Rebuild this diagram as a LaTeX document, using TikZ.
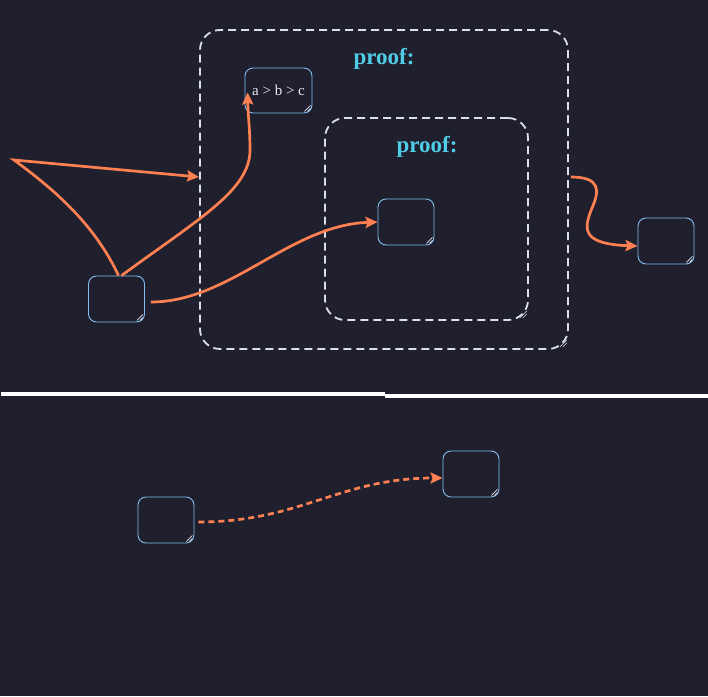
\documentclass[tikz,border=0pt]{standalone}
\usepackage{fontspec}
\setmainfont{Liberation Serif}
\usetikzlibrary{arrows.meta,calc}
\definecolor{bg}{RGB}{31,31,46}
\definecolor{nodeblue}{RGB}{130,190,240}
\definecolor{boxgray}{RGB}{220,222,232}
\definecolor{titlecyan}{RGB}{80,205,230}
\definecolor{coral}{RGB}{255,128,80}
\definecolor{txt}{RGB}{235,235,242}
\tikzset{
  statebox/.style={draw=nodeblue, line width=0.9pt, rounded corners=8pt,
    minimum width=56pt, minimum height=46pt, inner sep=2pt, text=txt,
    font=\fontsize{15}{17}\selectfont},
  groupbox/.style={draw=boxgray, line width=1.8pt, rounded corners=20pt,
    dash pattern=on 8pt off 5pt},
  grouptitle/.style={text=titlecyan, font=\bfseries\fontsize{23}{25}\selectfont},
  conn/.style={draw=coral, line width=2.7pt, -{Stealth[length=12pt,width=11pt,inset=2pt]}},
  grip/.style={draw=boxgray!80, line width=0.6pt},
  divider/.style={draw=white, line width=4pt}
}
\newcommand{\gripat}[1]{%
  \draw[grip] ($(#1)+(-8,-2)$) -- ++(6,-6);
  \draw[grip] ($(#1)+(-5,-2)$) -- ++(3,-3);}
\begin{document}
\begin{tikzpicture}[x=1pt,y=-1pt]
\useasboundingbox (0,0) rectangle (708,696);
\fill[bg] (0,0) rectangle (708,696);
% group boxes
\node[groupbox, minimum width=368pt, minimum height=319pt] (outer) at (384,189.5) {};
\node[grouptitle] (outert) at (384,58.5) {proof:};
\node[groupbox, minimum width=203pt, minimum height=202pt] (inner) at (426.5,219) {};
\node[grouptitle] (innert) at (427,146.5) {proof:};
% state nodes
\node[statebox, minimum width=67pt, minimum height=45pt] (abc) at (278.5,90.5) {a > b > c};
\node[statebox] (A) at (116.5,299) {};
\node[statebox] (B) at (406,222) {};
\node[statebox] (C) at (666,241) {};
\node[statebox] (D) at (166,520) {};
\node[statebox] (E) at (471,474) {};
% grips
\foreach \n in {abc,A,B,C,D,E}{\gripat{\n.south east}}
\draw[grip] ($(inner.south east)+(-9,-3)$) -- ++(7,-7);
\draw[grip] ($(inner.south east)+(-6,-3)$) -- ++(4,-4);
\draw[grip] ($(outer.south east)+(-9,-3)$) -- ++(7,-7);
\draw[grip] ($(outer.south east)+(-6,-3)$) -- ++(4,-4);
% helper coordinates
\coordinate (p1) at (14,160);
\coordinate (inW) at ($(outer.west)+(0,-12.5)$);
\coordinate (outE) at ($(outer.east)+(2,-12.5)$);
% connectors
\draw[conn] ($(A.north)+(2,0)$) .. controls (95,225) and (55,190) .. (p1) -- (inW);
\draw[conn] ($(A.north)+(5,0)$) .. controls (200,218) and (250,190) .. (250,150)
   .. controls (250,130) and (248,115) .. ($(abc.west)+(3,2)$);
\draw[conn] ($(A.east)+(6,3)$) .. controls (230,302) and (290,225) .. (B.west);
\draw[conn] (outE) .. controls (600,177) and (600,190) .. (592,208)
   .. controls (584,228) and (580,244) .. (C.west |- 0,246);
\draw[conn, dash pattern=on 6pt off 4pt] ($(D.east)+(4,2)$) .. controls (300,522) and (340,478) .. ($(E.west)+(0,4)$);
% divider
\draw[divider] (1,394) -- (385,394);
\draw[divider] (385,395.5) -- (708,395.5);
\end{tikzpicture}
\end{document}
